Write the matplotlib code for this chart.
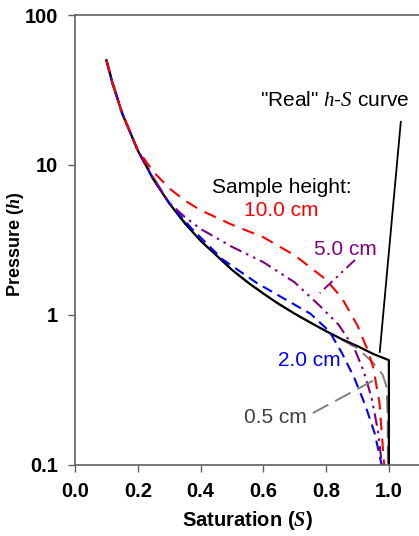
import matplotlib
matplotlib.use("Agg")
import matplotlib.pyplot as plt

plt.rcParams['font.family'] = ['Liberation Sans', 'DejaVu Sans']
plt.rcParams['mathtext.fontset'] = 'custom'
plt.rcParams['mathtext.it'] = 'Liberation Serif:italic'
plt.rcParams['mathtext.bfit'] = 'Liberation Serif:italic:bold'
plt.rcParams['mathtext.rm'] = 'Liberation Sans'

# "Real" h-S curve
S_real = [0.1, 0.12, 0.15, 0.2, 0.25, 0.3, 0.35, 0.4, 0.5, 0.55, 0.6, 0.65, 0.7, 0.75, 0.8, 0.85, 0.9, 0.95, 1.0, 1.0]
h_real = [50, 34.7, 22.2, 12.5, 8.0, 5.56, 4.08, 3.13, 2.0, 1.65, 1.39, 1.18, 1.02, 0.89, 0.78, 0.69, 0.62, 0.55, 0.5, 0.1]

# Sample height 10.0 cm
S_10 = [0.1, 0.12, 0.15, 0.2, 0.25, 0.3, 0.35, 0.4, 0.5, 0.6, 0.7, 0.8, 0.85, 0.9, 0.93, 0.95, 0.97, 0.985]
h_10 = [50, 34.7, 22.2, 12.6, 9.0, 7.0, 5.8, 5.0, 4.0, 3.3, 2.5, 1.72, 1.3, 0.85, 0.6, 0.45, 0.26, 0.1]

# Sample height 5.0 cm
S_5 = [0.1, 0.12, 0.15, 0.2, 0.25, 0.3, 0.35, 0.4, 0.5, 0.6, 0.7, 0.78, 0.84, 0.89, 0.92, 0.945, 0.965, 0.978]
h_5 = [50, 34.7, 22.2, 12.5, 8.1, 5.6, 4.5, 3.75, 2.85, 2.25, 1.65, 1.15, 0.86, 0.6, 0.42, 0.28, 0.17, 0.1]

# Sample height 2.0 cm
S_2 = [0.1, 0.12, 0.15, 0.2, 0.25, 0.3, 0.37, 0.47, 0.58, 0.685, 0.75, 0.81, 0.85, 0.89, 0.925, 0.955, 0.977]
h_2 = [50, 34.7, 22.2, 12.5, 8.0, 5.6, 3.8, 2.35, 1.63, 1.22, 1.02, 0.78, 0.56, 0.38, 0.25, 0.162, 0.1]

# Sample height 0.5 cm
S_05 = [0.1, 0.15, 0.2, 0.3, 0.4, 0.5, 0.6, 0.7, 0.8, 0.9, 0.95, 0.98, 0.993, 0.996, 0.997]
h_05 = [50, 22.2, 12.5, 5.56, 3.13, 2.0, 1.39, 1.02, 0.78, 0.6, 0.48, 0.4, 0.33, 0.2, 0.1]

x_ticks = [0.0, 0.2, 0.4, 0.6, 0.8, 1.0]
x_ticklabels = ["0.0", "0.2", "0.4", "0.6", "0.8", "1.0"]
y_ticks = [0.1, 1, 10, 100]
y_ticklabels = ["0.1", "1", "10", "100"]

fig = plt.figure(figsize=(4.19, 5.36), dpi=100)
ax = fig.add_axes([0.179, 0.1325, 0.824, 0.8395])

ax.plot(S_05, h_05, color='#808080', lw=1.4, dashes=(9, 4))
ax.plot(S_real, h_real, color='black', lw=1.6)
ax.plot(S_2, h_2, color='#0000ff', lw=1.5, dashes=(5, 3))
ax.plot(S_5, h_5, color='#800080', lw=1.5, dashes=(6, 2.5, 1.2, 2.5, 1.2, 2.5))
ax.plot(S_10, h_10, color='#ff0000', lw=1.5, dashes=(6, 4))

ax.set_yscale('log')
ax.set_xlim(0, 1.1)
ax.set_ylim(0.1, 100)
ax.set_xticks(x_ticks)
ax.set_xticklabels(x_ticklabels, fontweight='bold', fontsize=14.5)
ax.set_yticks(y_ticks)
ax.set_yticklabels(y_ticklabels, fontweight='bold', fontsize=14.5)
ax.minorticks_off()
ax.tick_params(direction='out', length=5, width=1, color='#606060', pad=7)

for s in ['left', 'bottom', 'top']:
    ax.spines[s].set_color('#606060')
    ax.spines[s].set_linewidth(1.2)
ax.spines['right'].set_visible(False)

ax.set_xlabel(r"Saturation ($\mathbfit{S}$)", fontweight='bold', fontsize=14.5, labelpad=6)
ax.set_ylabel(r"Pressure ($\mathbfit{h}$)", fontweight='bold', fontsize=13)
ax.yaxis.set_label_coords(-0.142, 0.49)

# annotations
ax.text(0.828, 27.0, r'"Real" $\mathit{h}$-$\mathit{S}$ curve', fontsize=15, ha='center', va='center')
ax.plot([1.038, 0.971], [19.4, 0.567], color='black', lw=1.3)

ax.text(0.659, 7.13, "Sample height:", fontsize=15, ha='center', va='center', color='black')
ax.text(0.656, 5.0, "10.0 cm", fontsize=15, ha='center', va='center', color='#ff0000')
ax.text(0.86, 2.75, "5.0 cm", fontsize=15, ha='center', va='center', color='#800080')
ax.plot([0.892, 0.78], [2.33, 1.40], color='#800080', lw=1.4, dashes=(6, 2.5, 1.2, 2.5, 1.2, 2.5))
ax.text(0.748, 0.5, "2.0 cm", fontsize=15, ha='center', va='center', color='#0000ff')
ax.text(0.637, 0.206, "0.5 cm", fontsize=15, ha='center', va='center', color='#404040')
ax.plot([0.758, 0.971], [0.222, 0.386], color='#808080', lw=1.4, dashes=(9, 4))

fig.savefig("out.png", dpi=100)
